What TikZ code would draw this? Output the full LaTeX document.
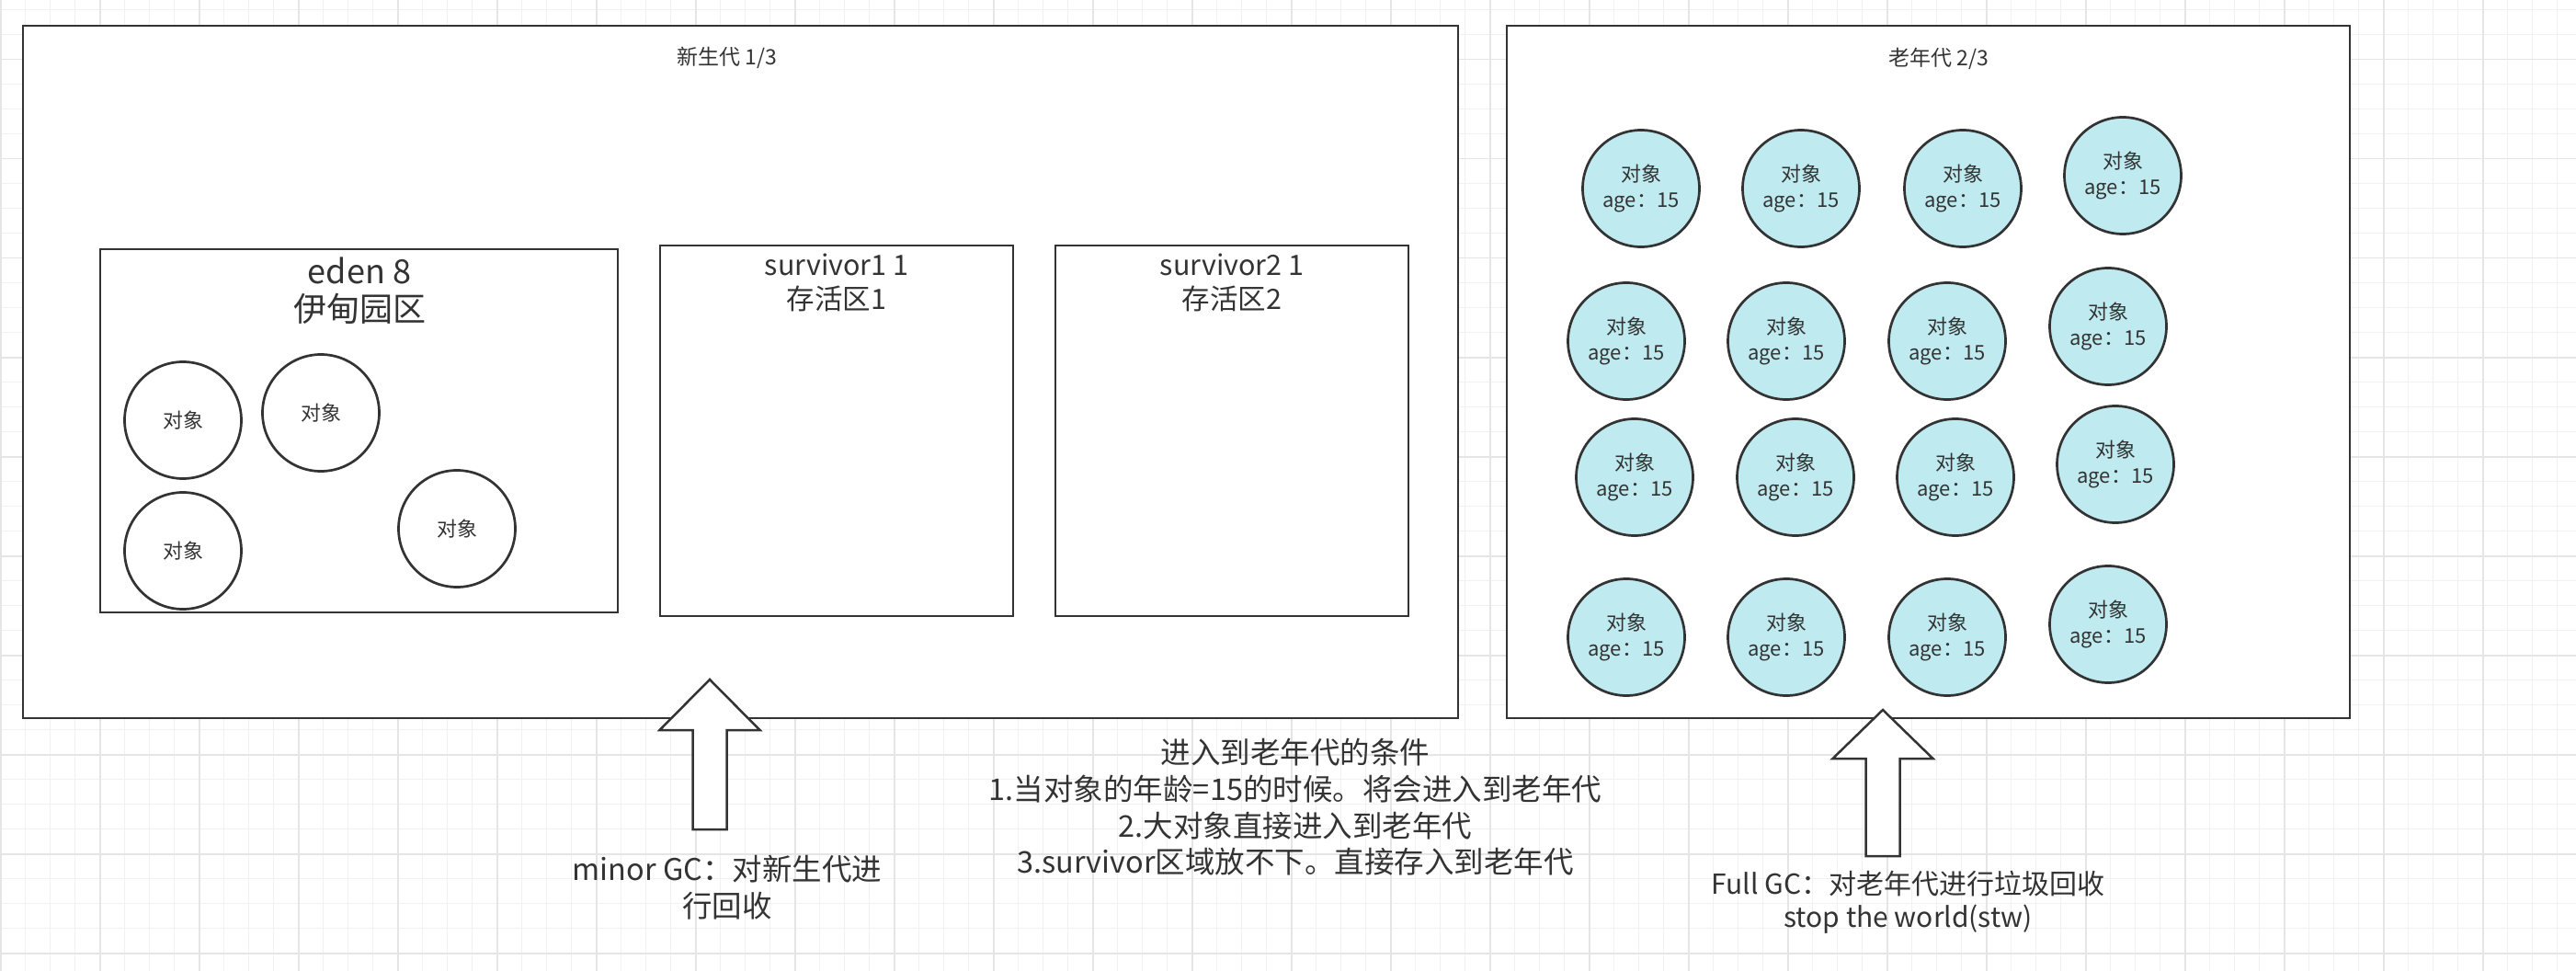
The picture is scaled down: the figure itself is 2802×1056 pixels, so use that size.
\documentclass[tikz,border=0pt]{standalone}
\usepackage{fontspec}
\setmainfont{Noto Sans CJK SC}
\definecolor{ink}{RGB}{51,51,51}
\definecolor{objfill}{RGB}{190,234,240}
\definecolor{gridminor}{RGB}{241,241,241}
\definecolor{gridmajor}{RGB}{229,229,229}

\begin{document}
\begin{tikzpicture}[x=1pt,y=-1pt,
        area/.style={draw=ink,line width=2.7pt,fill=white},
        obj/.style={circle,draw=ink,line width=2.7pt,minimum size=127,inner sep=0pt,align=center,text=ink,font=\fontsize{22}{28}\selectfont},
        oldobj/.style={obj,fill=objfill},
        title/.style={text=ink,font=\fontsize{23}{28}\selectfont},
        zonetext/.style={text=ink,align=center,font=\fontsize{30.5}{37}\selectfont},
        note/.style={text=ink,align=center,font=\fontsize{32.5}{39.7}\selectfont},
        gcarrow/.style={draw=ink,line width=2.5pt,fill=white,line join=miter}]
        \useasboundingbox (0,0) rectangle (2802,1056);
        \fill[white] (0,0) rectangle (2802,1056);
        \foreach \i in {0,...,103} \draw[gridminor,line width=1.2pt] (0.7+27*\i,0) -- (0.7+27*\i,1056);
        \foreach \i in {0,...,38} \draw[gridminor,line width=1.2pt] (0,10.7+27*\i) -- (2802,10.7+27*\i);
        \foreach \i in {0,...,25} \draw[gridmajor,line width=1.6pt] (0.7+108*\i,0) -- (0.7+108*\i,1056);
        \foreach \i in {0,...,9} \draw[gridmajor,line width=1.6pt] (0,64.7+108*\i) -- (2802,64.7+108*\i);

        % young generation
        \draw[area] (25,28) rectangle (1586,781);
        \node[title] (youngtitle) at (791,63) {新生代 1/3};
        \draw[area] (109,271) rectangle (672,666);
        \draw[area] (718,267) rectangle (1102,670);
        \draw[area] (1148,267) rectangle (1532,670);
        \node[zonetext,font=\fontsize{36}{41}\selectfont] (eden) at (391,316) {eden 8\\伊甸园区};
        \node[zonetext] (surv1) at (910,307) {survivor1 1\\存活区1};
        \node[zonetext] (surv2) at (1340,307) {survivor2 1\\存活区2};

        \node[obj] (e1) at (199,457) {对象};
        \node[obj] (e2) at (349,449) {对象};
        \node[obj] (e3) at (199,599) {对象};
        \node[obj] (e4) at (497,575) {对象};

        % old generation
        \draw[area] (1639,28) rectangle (2556,781);
        \node[title] (oldtitle) at (2109,64) {老年代 2/3};

        \node[oldobj] (o11) at (1785,205) {对象\\age：15};
        \node[oldobj] (o12) at (1959,205) {对象\\age：15};
        \node[oldobj] (o13) at (2135,205) {对象\\age：15};
        \node[oldobj] (o14) at (2309,191) {对象\\age：15};

        \node[oldobj] (o21) at (1769,371) {对象\\age：15};
        \node[oldobj] (o22) at (1943,371) {对象\\age：15};
        \node[oldobj] (o23) at (2118,371) {对象\\age：15};
        \node[oldobj] (o24) at (2293,355) {对象\\age：15};

        \node[oldobj] (o31) at (1778,519) {对象\\age：15};
        \node[oldobj] (o32) at (1953,519) {对象\\age：15};
        \node[oldobj] (o33) at (2127,519) {对象\\age：15};
        \node[oldobj] (o34) at (2301,505) {对象\\age：15};

        \node[oldobj] (o41) at (1769,693) {对象\\age：15};
        \node[oldobj] (o42) at (1943,693) {对象\\age：15};
        \node[oldobj] (o43) at (2118,693) {对象\\age：15};
        \node[oldobj] (o44) at (2293,679) {对象\\age：15};

        % gc arrows
        \draw[gcarrow] (772,739) -- (826.5,794) -- (790.5,794) -- (790.5,902) -- (753.5,902) -- (753.5,794) -- (717.5,794) -- cycle;
        \draw[gcarrow] (2048,772) -- (2102.5,825) -- (2066.5,825) -- (2066.5,931) -- (2029.5,931) -- (2029.5,825) -- (1993.5,825) -- cycle;

        \node[note] (minorgc) at (791,965) {minor GC：对新生代进\\行回收};
        \node[note] (cond) at (1409,878) {进入到老年代的条件\\1.当对象的年龄=15的时候。将会进入到老年代\\2.大对象直接进入到老年代\\3.survivor区域放不下。直接存入到老年代};
        \node[note,font=\fontsize{30}{36}\selectfont] (fullgc) at (2075.5,981) {Full GC：对老年代进行垃圾回收\\stop the world(stw)};
    \end{tikzpicture}
\end{document}
